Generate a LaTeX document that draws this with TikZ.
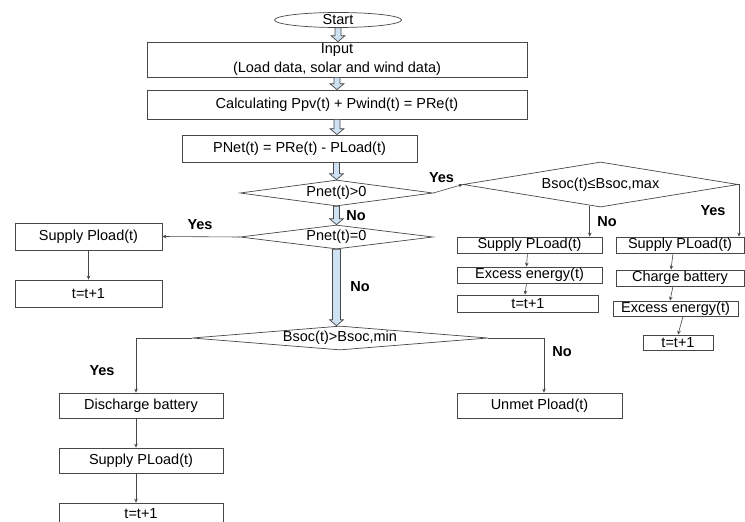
\documentclass[tikz,border=0pt]{standalone}
\usepackage{fontspec}
\setmainfont{Liberation Sans}
\usetikzlibrary{shapes.geometric,arrows.meta,calc}
\definecolor{arrowblue}{HTML}{CFE2F3}
\definecolor{linegray}{HTML}{474747}
\tikzset{
    box/.style={draw=linegray, line width=0.7pt, rectangle, inner sep=0pt, align=center,
                font=\fontsize{14.5}{19}\selectfont},
    decision/.style={draw=linegray, line width=0.7pt, diamond, inner sep=0pt,
                font=\fontsize{14.5}{17}\selectfont},
    answer/.style={inner sep=0pt, font=\fontsize{14.5}{17}\selectfont\bfseries},
    link/.style={draw=linegray, line width=0.6pt, -{Stealth[length=4pt,width=3.5pt]}},
    fatarrow/.style={draw=linegray, line width=0.7pt, fill=arrowblue},
}
% hollow block arrow, x of the first point
\newcommand{\blockarrow}[3][3]{%
  \path[fatarrow] let \p1=(#2), \p2=(#3) in
    (\x1-#1pt,\y1) -- (\x1-#1pt,\y2+6pt) -- (\x1-7pt,\y2+6pt) -- (\x1,\y2)
    -- (\x1+7pt,\y2+6pt) -- (\x1+#1pt,\y2+6pt) -- (\x1+#1pt,\y1) -- cycle;}
\begin{document}
\begin{tikzpicture}[x=1pt,y=-1pt]
  \useasboundingbox (0,0) rectangle (745,522);

  %MAIN COLUMN
  \node[draw=linegray, line width=0.7pt, ellipse, inner sep=0pt, minimum width=127pt, minimum height=15pt,
        font=\fontsize{14.5}{17}\selectfont] (start) at (338,20) {Start};
  \node[box, minimum width=380pt, minimum height=35pt] (input) at (337,59.5)
       {Input\\(Load data, solar and wind data)};
  \node[box, minimum width=380pt, minimum height=29pt] (calc) at (337,104.5)
       {Calculating Ppv(t) + Pwind(t) = PRe(t)};
  \node[box, minimum width=235pt, minimum height=27pt] (pnet) at (299.5,148.5)
       {PNet(t) = PRe(t) - PLoad(t)};
  \node[decision, minimum width=193pt, minimum height=26pt, aspect=7.42] (pos) at (336.5,193) {Pnet(t)>0};
  \node[decision, minimum width=193pt, minimum height=24pt, aspect=8.04] (zero) at (336.5,237) {Pnet(t)=0};
  \node[decision, minimum width=296pt, minimum height=24pt, aspect=12.33] (socmin) at (340,338) {Bsoc(t)>Bsoc,min};

  \blockarrow{start.south}{start.south |- input.north}
  \blockarrow{input.south}{input.south |- calc.north}
  \blockarrow{calc.south}{calc.south |- pnet.north}
  \blockarrow{pnet.south -| pos.north}{pos.north}
  \blockarrow{pos.south}{zero.north}
  \blockarrow[4]{zero.south}{socmin.north}
  \node[answer] (nopos) at (356,216) {No};
  \node[answer] (nozero) at (360,287) {No};

  %PNET = 0
  \node[box, minimum width=147pt, minimum height=27pt] (supzero) at (88.5,236.5) {Supply Pload(t)};
  \node[box, minimum width=147pt, minimum height=27pt] (tzero) at (88.5,293.5) {t=t+1};
  \draw[link] (zero.west) -- (supzero.east);
  \draw[link] (supzero.south) -- (tzero.north);
  \node[answer] (yeszero) at (200,225) {Yes};

  %DISCHARGE
  \node[box, minimum width=164pt, minimum height=25pt] (dis) at (141,405.5) {Discharge battery};
  \node[box, minimum width=164pt, minimum height=25pt] (supdis) at (141,460.5) {Supply PLoad(t)};
  \node[box, minimum width=164pt, minimum height=22pt] (tdis) at (141,514) {t=t+1};
  \node[box, minimum width=165pt, minimum height=25pt] (unmet) at (539.5,405.5) {Unmet Pload(t)};
  \draw[link] (socmin.west) -| ($(dis.north)+(-5,0)$);
  \draw[link] ($(dis.south)+(-5,0)$) -- ($(supdis.north)+(-5,0)$);
  \draw[link] ($(supdis.south)+(-5,0)$) -- ($(tdis.north)+(-5,0)$);
  \draw[link] (socmin.east) -| ($(unmet.north)+(4.5,0)$);
  \node[answer] (yesmin) at (102,371) {Yes};
  \node[answer] (nomin) at (562,352) {No};

  %CHARGE
  \node[decision, minimum width=275pt, minimum height=45pt, aspect=6.11] (socmax) at (600.5,184.5) {Bsoc(t)≤Bsoc,max};
  \draw[link] (pos.east) -- (socmax.west);
  \node[answer] (yespos) at (441.5,178) {Yes};

  \node[box, minimum width=145pt, minimum height=16pt] (supex) at (529.5,245) {Supply PLoad(t)};
  \node[box, minimum width=145pt, minimum height=16pt] (exex) at (529.5,275) {Excess energy(t)};
  \node[box, minimum width=141pt, minimum height=17pt] (tex) at (528,303.5) {t=t+1};
  \draw[link] (socmax.243) -- (socmax.243 |- supex.north);
  \draw[link] ($(supex.south)+(-2,0)$) -- ($(exex.north)+(-3,0)$);
  \draw[link] ($(exex.south)+(-3,0)$) -- ($(tex.north)+(-3,0)$);
  \node[answer] (nomax) at (607,222) {No};

  \node[box, minimum width=128pt, minimum height=16pt] (supch) at (680,245) {Supply PLoad(t)};
  \node[box, minimum width=128pt, minimum height=16pt] (charge) at (680,278) {Charge battery};
  \node[box, minimum width=125pt, minimum height=15pt] (exch) at (675.5,308.5) {Excess energy(t)};
  \node[box, minimum width=70pt, minimum height=15pt] (tch) at (678,342.5) {t=t+1};
  \draw[link] (socmax.east) -| ($(supch.north)+(59,0)$);
  \draw[link] ($(supch.south)+(-7,0)$) -- ($(charge.north)+(-9,0)$);
  \draw[link] ($(charge.south)+(-7,0)$) -- ($(exch.north)+(-5.5,0)$);
  \draw[link] ($(exch.south)+(7.5,0)$) -- (tch.north);
  \node[answer] (yesmax) at (713,211) {Yes};
\end{tikzpicture}
\end{document}
